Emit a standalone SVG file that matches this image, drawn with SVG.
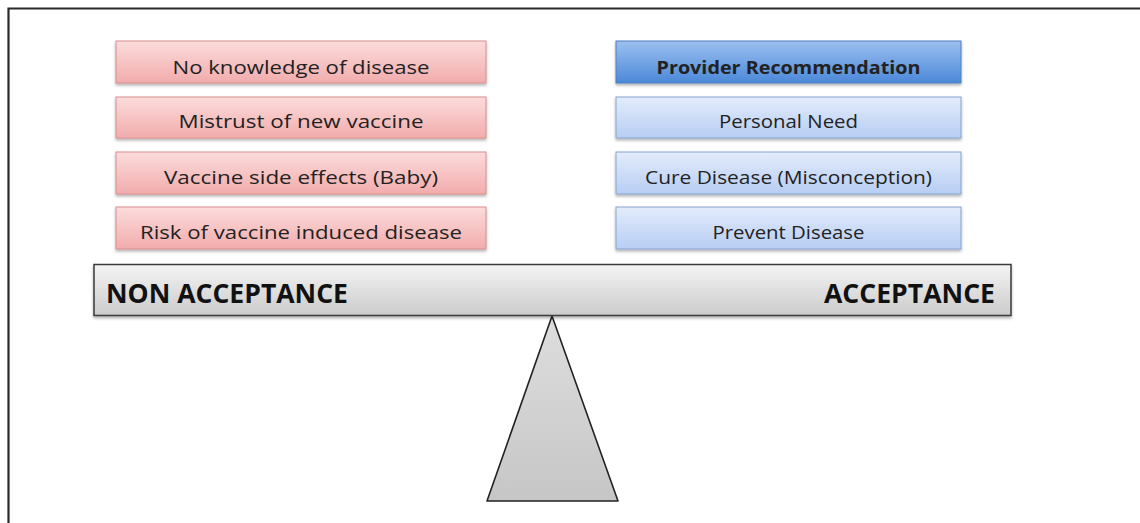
<svg xmlns="http://www.w3.org/2000/svg" width="1140" height="523" viewBox="0 0 1140 523">
  <defs>
    <linearGradient id="gRed" x1="0" y1="0" x2="0" y2="1">
      <stop offset="0" stop-color="#fcdcdc"/>
      <stop offset="1" stop-color="#f2acac"/>
    </linearGradient>
    <linearGradient id="gBlue" x1="0" y1="0" x2="0" y2="1">
      <stop offset="0" stop-color="#e3ecfb"/>
      <stop offset="1" stop-color="#b7cdf3"/>
    </linearGradient>
    <linearGradient id="gBlueDark" x1="0" y1="0" x2="0" y2="1">
      <stop offset="0" stop-color="#9cc0f0"/>
      <stop offset="1" stop-color="#4b88d8"/>
    </linearGradient>
    <linearGradient id="gBar" x1="0" y1="0" x2="0" y2="1">
      <stop offset="0" stop-color="#f4f4f4"/>
      <stop offset="1" stop-color="#cbcbcb"/>
    </linearGradient>
    <linearGradient id="gTri" x1="0" y1="0" x2="0" y2="1">
      <stop offset="0" stop-color="#dedede"/>
      <stop offset="1" stop-color="#c6c6c6"/>
    </linearGradient>
    <filter id="shadow" x="-5%" y="-20%" width="110%" height="150%">
      <feDropShadow dx="0" dy="2" stdDeviation="1.5" flood-color="#000" flood-opacity="0.3"/>
    </filter>
  </defs>
  <style>
    .red { fill: url(#gRed); stroke: #d98c8c; stroke-width: 1; filter: url(#shadow); }
    .blue { fill: url(#gBlue); stroke: #86a3cf; stroke-width: 1; filter: url(#shadow); }
    .blueDark { fill: url(#gBlueDark); stroke: #4f7fc2; stroke-width: 1; filter: url(#shadow); }
    .lbl { font-family: "Open Sans", "Liberation Sans", sans-serif; font-size: 18.5px; fill: #222; }
    .bold { font-weight: bold; }
    .big { font-family: "Open Sans", "Liberation Sans", sans-serif; font-size: 27px; font-weight: bold; fill: #111; }
  </style>
  <rect width="1140" height="523" fill="#fff"/>

  <!-- frame -->
  <path d="M8.5,523 V8.5 H1140" fill="none" stroke="#2a2a2a" stroke-width="2.2"/>

  <g id="no-knowledge">
    <rect class="red" x="116" y="41" width="370" height="42"/>
    <text class="lbl" x="301" y="74" text-anchor="middle" textLength="257" lengthAdjust="spacingAndGlyphs">No knowledge of disease</text>
  </g>
  <g id="mistrust">
    <rect class="red" x="116" y="97" width="370" height="41"/>
    <text class="lbl" x="301" y="128" text-anchor="middle" textLength="245" lengthAdjust="spacingAndGlyphs">Mistrust of new vaccine</text>
  </g>
  <g id="side-effects">
    <rect class="red" x="116" y="152" width="370" height="42"/>
    <text class="lbl" x="301" y="184" text-anchor="middle" textLength="274" lengthAdjust="spacingAndGlyphs">Vaccine side effects (Baby)</text>
  </g>
  <g id="risk">
    <rect class="red" x="116" y="207" width="370" height="42"/>
    <text class="lbl" x="301" y="239" text-anchor="middle" textLength="322" lengthAdjust="spacingAndGlyphs">Risk of vaccine induced disease</text>
  </g>

  <g id="provider">
    <rect class="blueDark" x="616" y="41" width="345" height="42"/>
    <text class="lbl bold" x="788.5" y="74" text-anchor="middle" textLength="264" lengthAdjust="spacingAndGlyphs">Provider Recommendation</text>
  </g>
  <g id="personal-need">
    <rect class="blue" x="616" y="97" width="345" height="41"/>
    <text class="lbl" x="788.5" y="128" text-anchor="middle" textLength="139" lengthAdjust="spacingAndGlyphs">Personal Need</text>
  </g>
  <g id="cure">
    <rect class="blue" x="616" y="152" width="345" height="42"/>
    <text class="lbl" x="788.5" y="184" text-anchor="middle" textLength="287" lengthAdjust="spacingAndGlyphs">Cure Disease (Misconception)</text>
  </g>
  <g id="prevent">
    <rect class="blue" x="616" y="207" width="345" height="42"/>
    <text class="lbl" x="788.5" y="239" text-anchor="middle" textLength="152" lengthAdjust="spacingAndGlyphs">Prevent Disease</text>
  </g>

  <g id="fulcrum">
    <polygon points="552,316 487,501 618,501" fill="url(#gTri)" stroke="#222" stroke-width="1.6" stroke-linejoin="round"/>
  </g>

  <g id="beam">
    <rect x="94" y="264.5" width="917" height="51" fill="url(#gBar)" stroke="#3a3a3a" stroke-width="1.5" filter="url(#shadow)"/>
    <text class="big" x="106" y="303" textLength="242" lengthAdjust="spacingAndGlyphs">NON ACCEPTANCE</text>
    <text class="big" x="995" y="303" text-anchor="end" textLength="171" lengthAdjust="spacingAndGlyphs">ACCEPTANCE</text>
  </g>

  <g id="connectors"></g>
</svg>
